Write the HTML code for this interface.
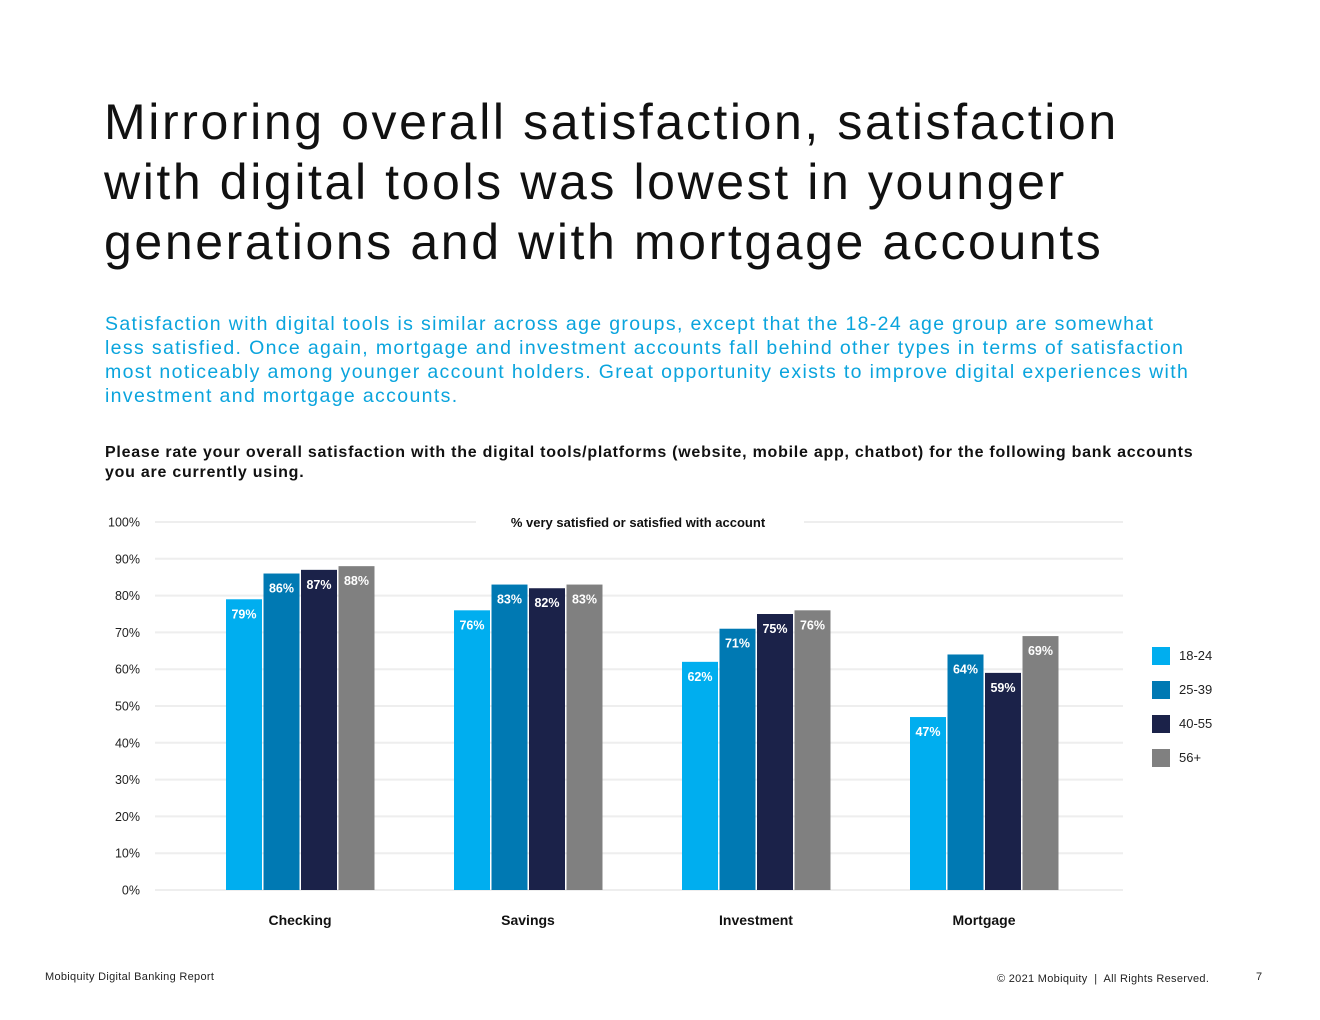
<!DOCTYPE html>
<html><head><meta charset="utf-8">
<style>
body{margin:0;width:1320px;height:1020px;background:#fff;font-family:"Liberation Sans",sans-serif;position:relative;overflow:hidden}
.abs{position:absolute}
#title{left:104px;top:92px;font-size:50px;line-height:60px;color:#111;letter-spacing:2.6px;white-space:nowrap}
#sub{left:105px;top:312px;font-size:19.5px;line-height:24px;color:#0aa4dd;white-space:nowrap;letter-spacing:1.35px}
#q{left:105px;top:443px;font-size:16px;line-height:20px;font-weight:bold;color:#111;white-space:nowrap;letter-spacing:0.75px}
.foot{font-size:11px;color:#222;top:971px}
</style></head><body>
<div id="title" class="abs">Mirroring overall satisfaction, satisfaction<br>with digital tools was lowest in younger<br>generations and with mortgage accounts</div>
<div id="sub" class="abs">Satisfaction with digital tools is similar across age groups, except that the 18-24 age group are somewhat<br>less satisfied. Once again, mortgage and investment accounts fall behind other types in terms of satisfaction<br>most noticeably among younger account holders. Great opportunity exists to improve digital experiences with<br>investment and mortgage accounts.</div>
<div id="q" class="abs">Please rate your overall satisfaction with the digital tools/platforms (website, mobile app, chatbot) for the following bank accounts<br>you are currently using.</div>
<svg id="chart" class="abs" style="left:0;top:0" width="1320" height="1020"></svg>
<div class="abs foot" style="left:45px;letter-spacing:0.3px">Mobiquity Digital Banking Report</div>
<div class="abs foot" style="left:997px;top:973px;letter-spacing:0.3px">© 2021 Mobiquity &nbsp;|&nbsp; All Rights Reserved.</div>
<div class="abs foot" style="left:1256px">7</div>
<script>
const categories=["Checking","Savings","Investment","Mortgage"];
const series=["18-24","25-39","40-55","56+"];
const values=[[79,86,87,88],[76,83,82,83],[62,71,75,76],[47,64,59,69]];
const ticks=[0,10,20,30,40,50,60,70,80,90,100];
const colors=["#00aeef","#0079b3","#1b2249","#808080"];
const NS="http://www.w3.org/2000/svg";
const svg=document.getElementById('chart');
function y(v){return 890-v*3.68;}
function gx(i){return 300+i*228;}
function mk(t,a,txt){const e=document.createElementNS(NS,t);for(const k in a)e.setAttribute(k,a[k]);if(txt!==undefined)e.textContent=txt;svg.appendChild(e);return e;}
ticks.forEach(t=>{
  const l=mk('line',{x1:155,x2:1123,y1:y(t),y2:y(t),stroke:'#eeeeee','stroke-width':2});
  
  
  const tx=mk('text',{x:140,y:y(t)+4.5,'text-anchor':'end','font-size':12.5,fill:'#222'},t+'%');
  
  
});
const bg=mk('rect',{x:476,y:512,width:328,height:20,fill:'#fff'});


const ct=mk('text',{x:638,y:527,'text-anchor':'middle','font-size':13,'font-weight':'bold',fill:'#111'},'% very satisfied or satisfied with account');


categories.forEach((c,i)=>{
  values[i].forEach((v,j)=>{
    const x=gx(i)-74+j*37.5;
    const r=mk('rect',{x:x,y:y(v),width:36,height:890-y(v),fill:colors[j]});
    
    
    const t=mk('text',{x:x+18,y:y(v)+19,'text-anchor':'middle','font-size':12.5,'font-weight':'bold',fill:'#fff'},v+'%');
    
    
  });
  const cl=mk('text',{x:gx(i),y:925,'text-anchor':'middle','font-size':14,'font-weight':'bold',fill:'#111'},c);
  
  
});
series.forEach((s,j)=>{
  const r=mk('rect',{x:1152,y:647+j*34,width:18,height:18,fill:colors[j]});
  
  
  const t=mk('text',{x:1179,y:660+j*34,'font-size':13,fill:'#222'},s);
  
  
});
</script>
</body></html>
